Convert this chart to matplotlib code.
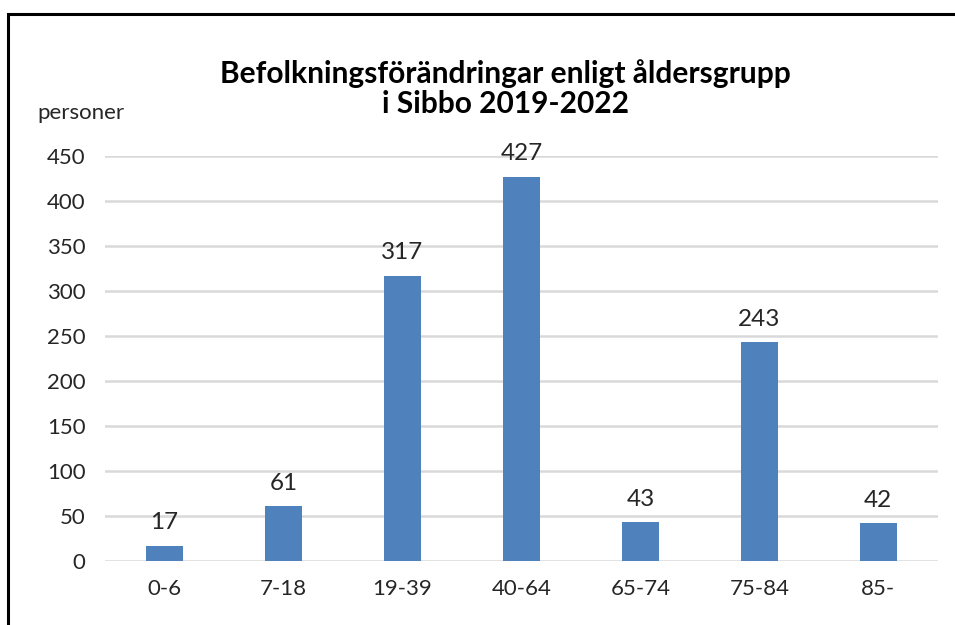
import matplotlib.pyplot as plt
from matplotlib.patches import Rectangle

plt.rcParams['font.family'] = ['Lato', 'DejaVu Sans']

aldersgrupper = ['0-6', '7-18', '19-39', '40-64', '65-74', '75-84', '85-']
personer = [17, 61, 317, 427, 43, 243, 42]
y_ticks = [0, 50, 100, 150, 200, 250, 300, 350, 400, 450]

fig = plt.figure(figsize=(9.55, 6.25), dpi=100)
ax = fig.add_axes([0.110, 0.1024, 0.872, 0.648])

x = range(len(aldersgrupper))
bars = ax.bar(x, personer, width=0.31, color='#4F81BD', zorder=3)
for xi, v in zip(x, personer):
    ax.annotate(str(v), (xi, v), xytext=(0, 9), textcoords='offset points',
                ha='center', va='bottom', fontsize=17.5, color='#262626')

ax.set_xlim(-0.5, len(aldersgrupper) - 0.5)
ax.set_ylim(0, 450)
ax.set_yticks(y_ticks)
ax.set_xticks(list(x))
ax.set_xticklabels(aldersgrupper)
ax.tick_params(axis='both', length=0, labelsize=16, colors='#262626')
ax.tick_params(axis='y', pad=14)
ax.tick_params(axis='x', pad=13)
ax.yaxis.grid(True, color='#D9D9D9', linewidth=1.8, zorder=0)
for s in ax.spines.values():
    s.set_visible(False)

fig.text(0.529, 0.858, 'Befolkningsförändringar enligt åldersgrupp\ni Sibbo 2019-2022',
         ha='center', va='center', fontsize=21.5, fontweight='bold',
         linespacing=1.1, color='#000000')
fig.text(0.039, 0.819, 'personer', ha='left', va='center', fontsize=16, color='#262626')

fig.patches.append(Rectangle((8 / 955, -0.1), 1.2, 1 - 14 / 625 + 0.1,
                             transform=fig.transFigure, fill=False,
                             edgecolor='black', linewidth=2.2, figure=fig))

fig.savefig('out.png', dpi=100)
